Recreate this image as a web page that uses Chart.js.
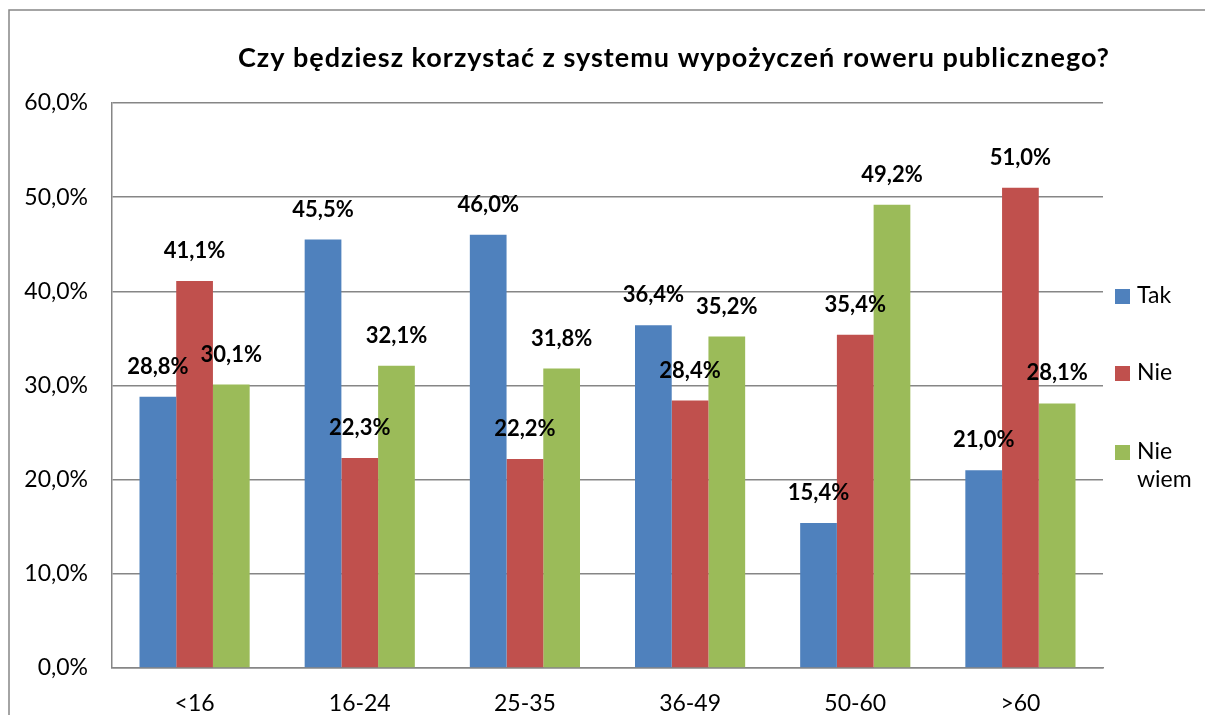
<!DOCTYPE html>
<html>
<head>
<meta charset="utf-8">
<script src="https://cdn.jsdelivr.net/npm/chart.js@4/dist/chart.umd.min.js"></script>
<style>
  html, body { margin: 0; padding: 0; background: #fff; }
  #wrap { width: 1205px; height: 715px; }
</style>
</head>
<body>
<div id="wrap"><canvas id="chart" width="1205" height="715"></canvas></div>
<script>
const categories = ["<16", "16-24", "25-35", "36-49", "50-60", ">60"];
const seriesNames = ["Tak", "Nie", "Nie wiem"];
const tak = [28.8, 45.5, 46.0, 36.4, 15.4, 21.0];
const nie = [41.1, 22.3, 22.2, 28.4, 35.4, 51.0];
const nieWiem = [30.1, 32.1, 31.8, 35.2, 49.2, 28.1];
const yTicks = [0, 10, 20, 30, 40, 50, 60];
const title = "Czy będziesz korzystać z systemu wypożyczeń roweru publicznego?";

const colors = ["#4F81BD", "#C0504D", "#9BBB59"];
const font = "Lato, 'Open Sans', sans-serif";
const fmt = (v) => v.toFixed(1).replace(".", ",") + "%";

// frame, title, value labels and legend drawn by hand (Excel-like look)
const decor = {
  id: "decor",
  beforeDraw(chart) {
    const c = chart.ctx;
    c.save();
    c.fillStyle = "#fff";
    c.fillRect(0, 0, chart.width, chart.height);
    c.strokeStyle = "#868686";
    c.lineWidth = 1.5;
    c.strokeRect(9, 10, 1400, 900);
    c.restore();
  },
  afterDatasetsDraw(chart) {
    const c = chart.ctx;
    c.save();
    c.fillStyle = "#000";
    c.font = "bold 22px " + font;
    c.textAlign = "center";
    c.textBaseline = "middle";
    chart.data.datasets.forEach((ds, i) => {
      chart.getDatasetMeta(i).data.forEach((bar, j) => {
        c.fillText(fmt(ds.data[j]), bar.x, bar.y - 30);
      });
    });
    c.restore();
  },
  afterDraw(chart) {
    const c = chart.ctx;
    c.save();
    c.fillStyle = "#000";
    c.font = "bold 27px " + font;
    c.letterSpacing = "1px";
    c.textAlign = "center";
    c.textBaseline = "middle";
    c.fillText(title, 674, 58);
    c.letterSpacing = "0px";

    c.font = "23px " + font;
    c.textAlign = "left";
    const ys = [296, 373, 452];
    chart.data.datasets.forEach((ds, i) => {
      c.fillStyle = ds.backgroundColor;
      c.fillRect(1115, ys[i] - 7, 15, 15);
      c.fillStyle = "#000";
      const words = ds.label.split(" ");
      words.forEach((w, k) => c.fillText(w, 1137, ys[i] + k * 28));
    });
    c.restore();
  }
};

new Chart(document.getElementById("chart"), {
  type: "bar",
  data: {
    labels: categories,
    datasets: [
      { label: seriesNames[0], data: tak, backgroundColor: colors[0] },
      { label: seriesNames[1], data: nie, backgroundColor: colors[1] },
      { label: seriesNames[2], data: nieWiem, backgroundColor: colors[2] },
    ],
  },
  options: {
    responsive: false,
    animation: false,
    layout: { padding: { left: 0, top: 103, right: 102, bottom: 0 } },
    datasets: { bar: { categoryPercentage: 0.667, barPercentage: 1.0 } },
    plugins: { legend: { display: false }, title: { display: false }, tooltip: { enabled: false } },
    scales: {
      x: {
        grid: { display: false, drawTicks: false },
        border: { display: true, color: "#868686", width: 1.5 },
        ticks: { color: "#000", font: { family: font, size: 23 }, padding: 22 },
        afterFit(s) { s.height = 47; },
      },
      y: {
        min: 0,
        max: 60,
        afterBuildTicks(s) { s.ticks = yTicks.map((v) => ({ value: v })); },
        grid: { color: "#868686", lineWidth: 1.5, drawTicks: false },
        border: { display: true, color: "#868686", width: 1.5 },
        ticks: { color: "#000", font: { family: font, size: 23 }, padding: 24, callback: (v) => fmt(v) },
        afterFit(s) { s.width = 112; },
      },
    },
  },
  plugins: [decor],
});
</script>
</body>
</html>
